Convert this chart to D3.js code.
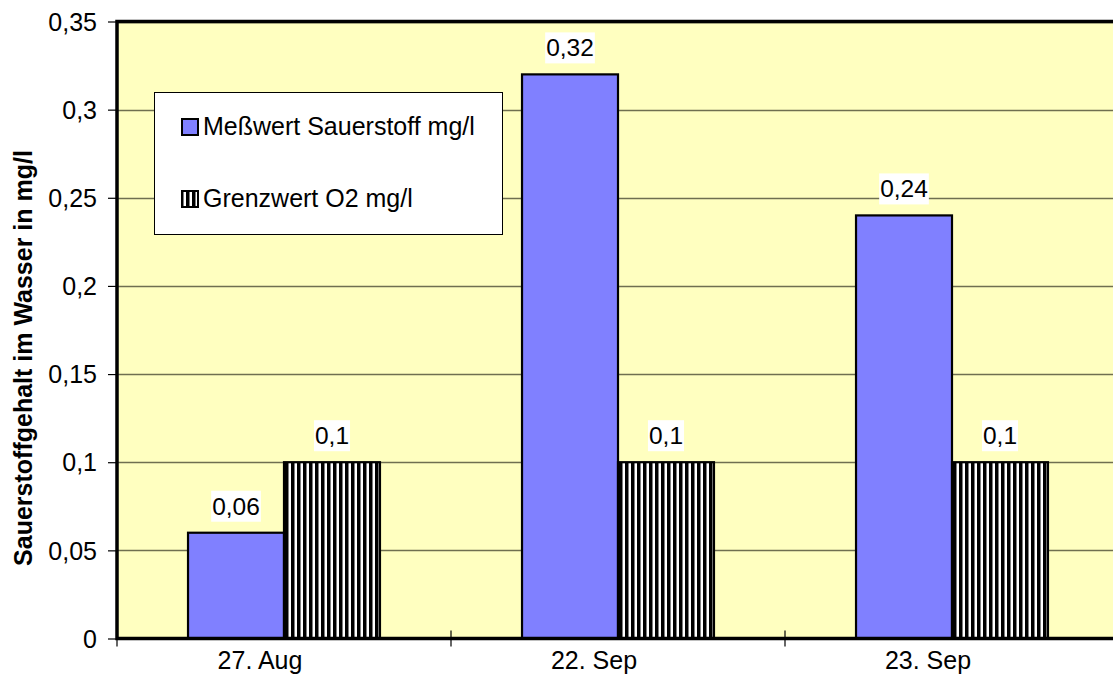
<!DOCTYPE html>
<html><head><meta charset="utf-8">
<script src="https://cdn.jsdelivr.net/npm/d3@7"></script>
<style>body{margin:0;background:#fff}svg{display:block}text{font-family:"Liberation Sans",Arial,sans-serif}</style>
</head><body>
<svg id="c" width="1113" height="688"></svg>
<script>
const categories = ["27. Aug", "22. Sep", "23. Sep"];
const seriesNames = ["Meßwert Sauerstoff mg/l", "Grenzwert O2 mg/l"];
const messwert = [0.06, 0.32, 0.24];
const grenzwert = [0.1, 0.1, 0.1];
const yTicks = [0, 0.05, 0.1, 0.15, 0.2, 0.25, 0.3, 0.35];
const yTitle = "Sauerstoffgehalt im Wasser in mg/l";

const svg = d3.select("#c");
const L = 117, R = 1119, T = 21.5, B = 638.5;
const fmt = v => String(v).replace(".", ",");

const defs = svg.append("defs");
const pat = defs.append("pattern").attr("id", "vstripe").attr("patternUnits", "userSpaceOnUse")
  .attr("width", 6).attr("height", 10);
pat.append("rect").attr("width", 6).attr("height", 10).attr("fill", "#fff");
pat.append("rect").attr("x", 0).attr("width", 3.5).attr("height", 10).attr("fill", "#000");

const x = d3.scaleBand().domain(categories).range([L, R]).paddingInner(0).paddingOuter(0);
const xs = d3.scaleBand().domain(seriesNames).range([0, x.bandwidth()]).paddingInner(0).paddingOuter(0.74);
const y = d3.scaleLinear().domain([0, 0.35]).range([B, T]);

// plot background
svg.append("rect").attr("x", L).attr("y", T).attr("width", R - L).attr("height", B - T).attr("fill", "#FFFFC0");

// gridlines
svg.append("g").selectAll("line").data(yTicks.filter(d => d > 0)).join("line")
  .attr("x1", L).attr("x2", R).attr("y1", d => Math.round(y(d)) + 0.5).attr("y2", d => Math.round(y(d)) + 0.5)
  .attr("stroke", "#6f6f50").attr("stroke-width", 1.3);

const data = categories.map((c, i) => ({ c, vals: [messwert[i], grenzwert[i]] }));
const fills = ["#8080FF", "url(#vstripe)"];

const groups = svg.append("g").selectAll("g").data(data).join("g")
  .attr("transform", d => `translate(${x(d.c)},0)`);
groups.selectAll("rect").data(d => d.vals.map((v, j) => ({ v, j }))).join("rect")
  .attr("x", d => xs(seriesNames[d.j]))
  .attr("y", d => y(d.v))
  .attr("width", xs.bandwidth())
  .attr("height", d => B - y(d.v))
  .attr("fill", d => fills[d.j])
  .attr("stroke", "#000").attr("stroke-width", 2.2);

// value labels
groups.each(function(d) {
  const g = d3.select(this);
  d.vals.forEach((v, j) => {
    const cx = xs(seriesNames[j]) + xs.bandwidth() / 2;
    const t = g.append("text").attr("x", cx).attr("y", y(v) - 18).attr("text-anchor", "middle")
      .attr("font-size", 24.5).attr("fill", "#000").text(fmt(v));
    const bb = t.node().getBBox();
    g.insert("rect", () => t.node()).attr("x", bb.x - 1).attr("y", y(v) - 42).attr("width", bb.width + 2).attr("height", 31).attr("fill", "#fff");
  });
});

// plot border
svg.append("rect").attr("x", L).attr("y", T).attr("width", R - L).attr("height", B - T)
  .attr("fill", "none").attr("stroke", "#000").attr("stroke-width", 3.5);

// y axis
const yAxis = svg.append("g").attr("transform", `translate(${L},0)`)
  .call(d3.axisLeft(y).tickValues(yTicks).tickSize(9).tickPadding(11).tickFormat(fmt));
yAxis.select(".domain").remove();
yAxis.selectAll("line").attr("stroke", "#000").attr("stroke-width", 1.2);
yAxis.selectAll("text").attr("font-size", 25).attr("font-family", "Liberation Sans, Arial, sans-serif").attr("dy", "0.35em").attr("fill", "#000");

// x axis ticks at category boundaries
const bounds = categories.map(c => x(c)).concat([x(categories[categories.length - 1]) + x.bandwidth()]);
svg.append("g").selectAll("line").data(bounds).join("line")
  .attr("x1", d => d).attr("x2", d => d).attr("y1", B - 8).attr("y2", B + 8)
  .attr("stroke", "#000").attr("stroke-width", 1.2);
svg.append("g").selectAll("text").data(categories).join("text")
  .attr("x", d => x(d) + x.bandwidth() / 2 - 24).attr("y", 669).attr("text-anchor", "middle")
  .attr("font-size", 25).attr("fill", "#000").text(d => d);

// y title
svg.append("text").attr("transform", "translate(32,358) rotate(-90)")
  .attr("text-anchor", "middle").attr("font-size", 25).attr("font-weight", "bold").attr("fill", "#000").text(yTitle);

// legend
const lg = svg.append("g");
lg.append("rect").attr("x", 154.5).attr("y", 92.5).attr("width", 348).attr("height", 142)
  .attr("fill", "#fff").attr("stroke", "#000").attr("stroke-width", 1);
const legRows = [127, 199];
seriesNames.forEach((s, i) => {
  lg.append("rect").attr("x", 182).attr("y", legRows[i] - 8).attr("width", 16).attr("height", 16)
    .attr("fill", fills[i]).attr("stroke", "#000").attr("stroke-width", 2);
  lg.append("text").attr("x", 203).attr("y", legRows[i] + 8).attr("font-size", 25).attr("fill", "#000").text(s);
});
</script>
</body></html>
